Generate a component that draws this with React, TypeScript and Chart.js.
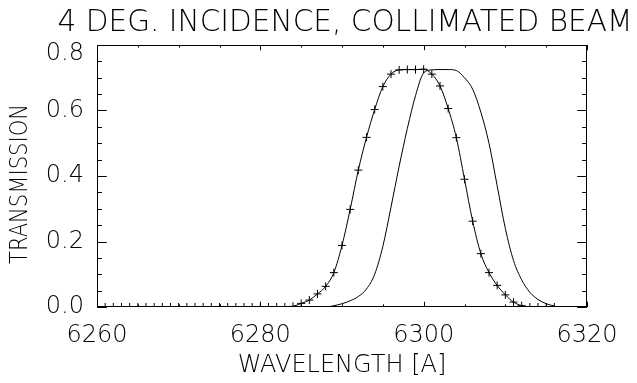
import React, { useEffect, useRef } from 'react';
import { Chart, registerables } from 'chart.js';

Chart.register(...registerables);

const wavelengths = [
  6260, 6261, 6262, 6263, 6264, 6265, 6266, 6267, 6268, 6269,
  6270, 6271, 6272, 6273, 6274, 6275, 6276, 6277, 6278, 6279,
  6280, 6281, 6282, 6283, 6284, 6285, 6286, 6287, 6288, 6289,
  6290, 6291, 6292, 6293, 6294, 6295, 6296, 6297, 6298, 6299,
  6300, 6301, 6302, 6303, 6304, 6305, 6306, 6307, 6308, 6309,
  6310, 6311, 6312, 6313, 6314, 6315, 6316,
];

// series drawn with "+" markers
const transmissionMarked = [
  0, 0, 0, 0, 0, 0, 0, 0, 0, 0,
  0, 0, 0, 0, 0, 0, 0, 0, 0, 0,
  0, 0, 0, 0, 0.002, 0.011, 0.021, 0.040, 0.063, 0.105,
  0.188, 0.298, 0.418, 0.518, 0.603, 0.673, 0.711, 0.724, 0.725, 0.725,
  0.726, 0.711, 0.675, 0.606, 0.517, 0.390, 0.262, 0.163, 0.105, 0.066,
  0.037, 0.015, 0.004, 0, 0, 0, 0,
];

// plain line series
const transmissionPlain = [
  0, 0, 0, 0, 0, 0, 0, 0, 0, 0,
  0, 0, 0, 0, 0, 0, 0, 0, 0, 0,
  0, 0, 0, 0, 0, 0, 0, 0, 0, 0.004,
  0.010, 0.019, 0.032, 0.055, 0.100, 0.185, 0.305, 0.430, 0.545, 0.645,
  0.715, 0.724, 0.725, 0.725, 0.722, 0.700, 0.665, 0.595, 0.500, 0.370,
  0.240, 0.142, 0.083, 0.045, 0.023, 0.010, 0.003,
];

const xMin = 6260;
const xMax = 6320;
const yMin = 0;
const yMax = 0.8;
const xMajorTicks = [6260, 6280, 6300, 6320];
const xTickLabels = ['6260', '6280', '6300', '6320'];
const yMajorTicks = [0.0, 0.2, 0.4, 0.6, 0.8];
const yTickLabels = ['0.0', '0.2', '0.4', '0.6', '0.8'];
const xMinorStep = 5;
const yMinorStep = 0.05;

const titleText = '4 DEG. INCIDENCE, COLLIMATED BEAM';
const xTitleText = 'WAVELENGTH [A]';
const yTitleText = 'TRANSMISSION';

const FONT_FAMILY = "'DejaVu Sans', 'Liberation Sans', sans-serif";

function spanText(ctx: CanvasRenderingContext2D, text: string, x: number, y: number, targetW: number, angle = 0) {
  const w = ctx.measureText(text).width || targetW;
  const s = targetW / w;
  ctx.save();
  ctx.translate(x, y);
  if (angle) ctx.rotate(angle);
  ctx.scale(s, 1);
  ctx.textAlign = 'center';
  ctx.fillText(text, 0, 0);
  ctx.restore();
}

const idlAxesPlugin = {
  id: 'idlAxes',
  afterDraw(chart: any) {
    const { ctx, chartArea: a, scales } = chart;
    const xs = scales.x;
    const ys = scales.y;
    const W = a.right - a.left;
    const H = a.bottom - a.top;
    const xMajLen = 0.02 * H;
    const yMajLen = 0.02 * W;
    ctx.save();
    ctx.strokeStyle = '#000';
    ctx.lineWidth = 1;
    // box
    ctx.strokeRect(a.left + 0.5, a.top + 0.5, W - 1, H - 1);

    ctx.beginPath();
    // x ticks (bottom and top)
    const nx = Math.round((xMax - xMin) / xMinorStep);
    for (let i = 0; i <= nx; i++) {
      const v = xMin + i * xMinorStep;
      const px = Math.round(xs.getPixelForValue(v)) + 0.5;
      const major = xMajorTicks.includes(v);
      const len = major ? xMajLen : xMajLen / 2;
      ctx.moveTo(px, a.bottom);
      ctx.lineTo(px, a.bottom - len);
      ctx.moveTo(px, a.top);
      ctx.lineTo(px, a.top + len);
    }
    // y ticks (left and right)
    const ny = Math.round((yMax - yMin) / yMinorStep);
    for (let i = 0; i <= ny; i++) {
      const v = yMin + i * yMinorStep;
      const py = Math.round(ys.getPixelForValue(v)) + 0.5;
      const major = i % 4 === 0;
      const len = major ? yMajLen : yMajLen / 2;
      ctx.moveTo(a.left, py);
      ctx.lineTo(a.left + len, py);
      ctx.moveTo(a.right, py);
      ctx.lineTo(a.right - len, py);
    }
    ctx.stroke();

    ctx.fillStyle = '#000';
    // x tick labels
    ctx.font = `200 24px ${FONT_FAMILY}`;
    ctx.textAlign = 'center';
    ctx.textBaseline = 'middle';
    xMajorTicks.forEach((v, i) => {
      ctx.fillText(xTickLabels[i], xs.getPixelForValue(v), a.bottom + 29);
    });
    // y tick labels
    ctx.textAlign = 'right';
    yMajorTicks.forEach((v, i) => {
      let py = ys.getPixelForValue(v);
      if (py < a.top + 9) py = a.top + 9;
      ctx.fillText(yTickLabels[i], a.left - 13, py);
    });
    // x title
    ctx.textAlign = 'center';
    ctx.fillText(xTitleText, (a.left + a.right) / 2, a.bottom + 59);
    // y title
    spanText(ctx, yTitleText, 21, (a.top + a.bottom) / 2 + 8, 160, -Math.PI / 2);
    // main title
    ctx.font = `200 30px ${FONT_FAMILY}`;
    ctx.textBaseline = 'alphabetic';
    spanText(ctx, titleText, (a.left + a.right) / 2 + 3, 31, 575);
    ctx.restore();
  },
};

export default function App() {
  const canvasRef = useRef<HTMLCanvasElement | null>(null);

  useEffect(() => {
    if (!canvasRef.current) return;
    const markedData = wavelengths.map((w, i) => ({ x: w, y: transmissionMarked[i] }));
    const plainData = wavelengths.map((w, i) => ({ x: w, y: transmissionPlain[i] }));
    const chart = new Chart(canvasRef.current, {
      type: 'line',
      data: {
        datasets: [
          {
            label: 'marked',
            data: markedData,
            borderColor: '#000',
            borderWidth: 1,
            pointStyle: 'cross',
            pointRadius: 4,
            pointBorderWidth: 1,
            pointBorderColor: '#000',
            pointBackgroundColor: '#000',
            cubicInterpolationMode: 'monotone',
            fill: false,
          },
          {
            label: 'plain',
            data: plainData,
            borderColor: '#000',
            borderWidth: 1,
            pointRadius: 0,
            cubicInterpolationMode: 'monotone',
            fill: false,
          },
        ],
      },
      options: {
        responsive: false,
        animation: false,
        devicePixelRatio: 1,
        events: [],
        layout: { padding: { left: 97, right: 50, top: 45, bottom: 76 } },
        plugins: {
          legend: { display: false },
          title: { display: false },
          tooltip: { enabled: false },
        },
        scales: {
          x: { type: 'linear', min: xMin, max: xMax, display: false },
          y: { type: 'linear', min: yMin, max: yMax, display: false },
        },
      },
      plugins: [idlAxesPlugin],
    });
    return () => chart.destroy();
  }, []);

  return (
    <div style={{ position: 'absolute', left: 0, top: 0, width: 637, height: 383, background: '#fff' }}>
      <canvas ref={canvasRef} width={637} height={383} style={{ display: 'block', width: 637, height: 383 }} />
    </div>
  );
}
